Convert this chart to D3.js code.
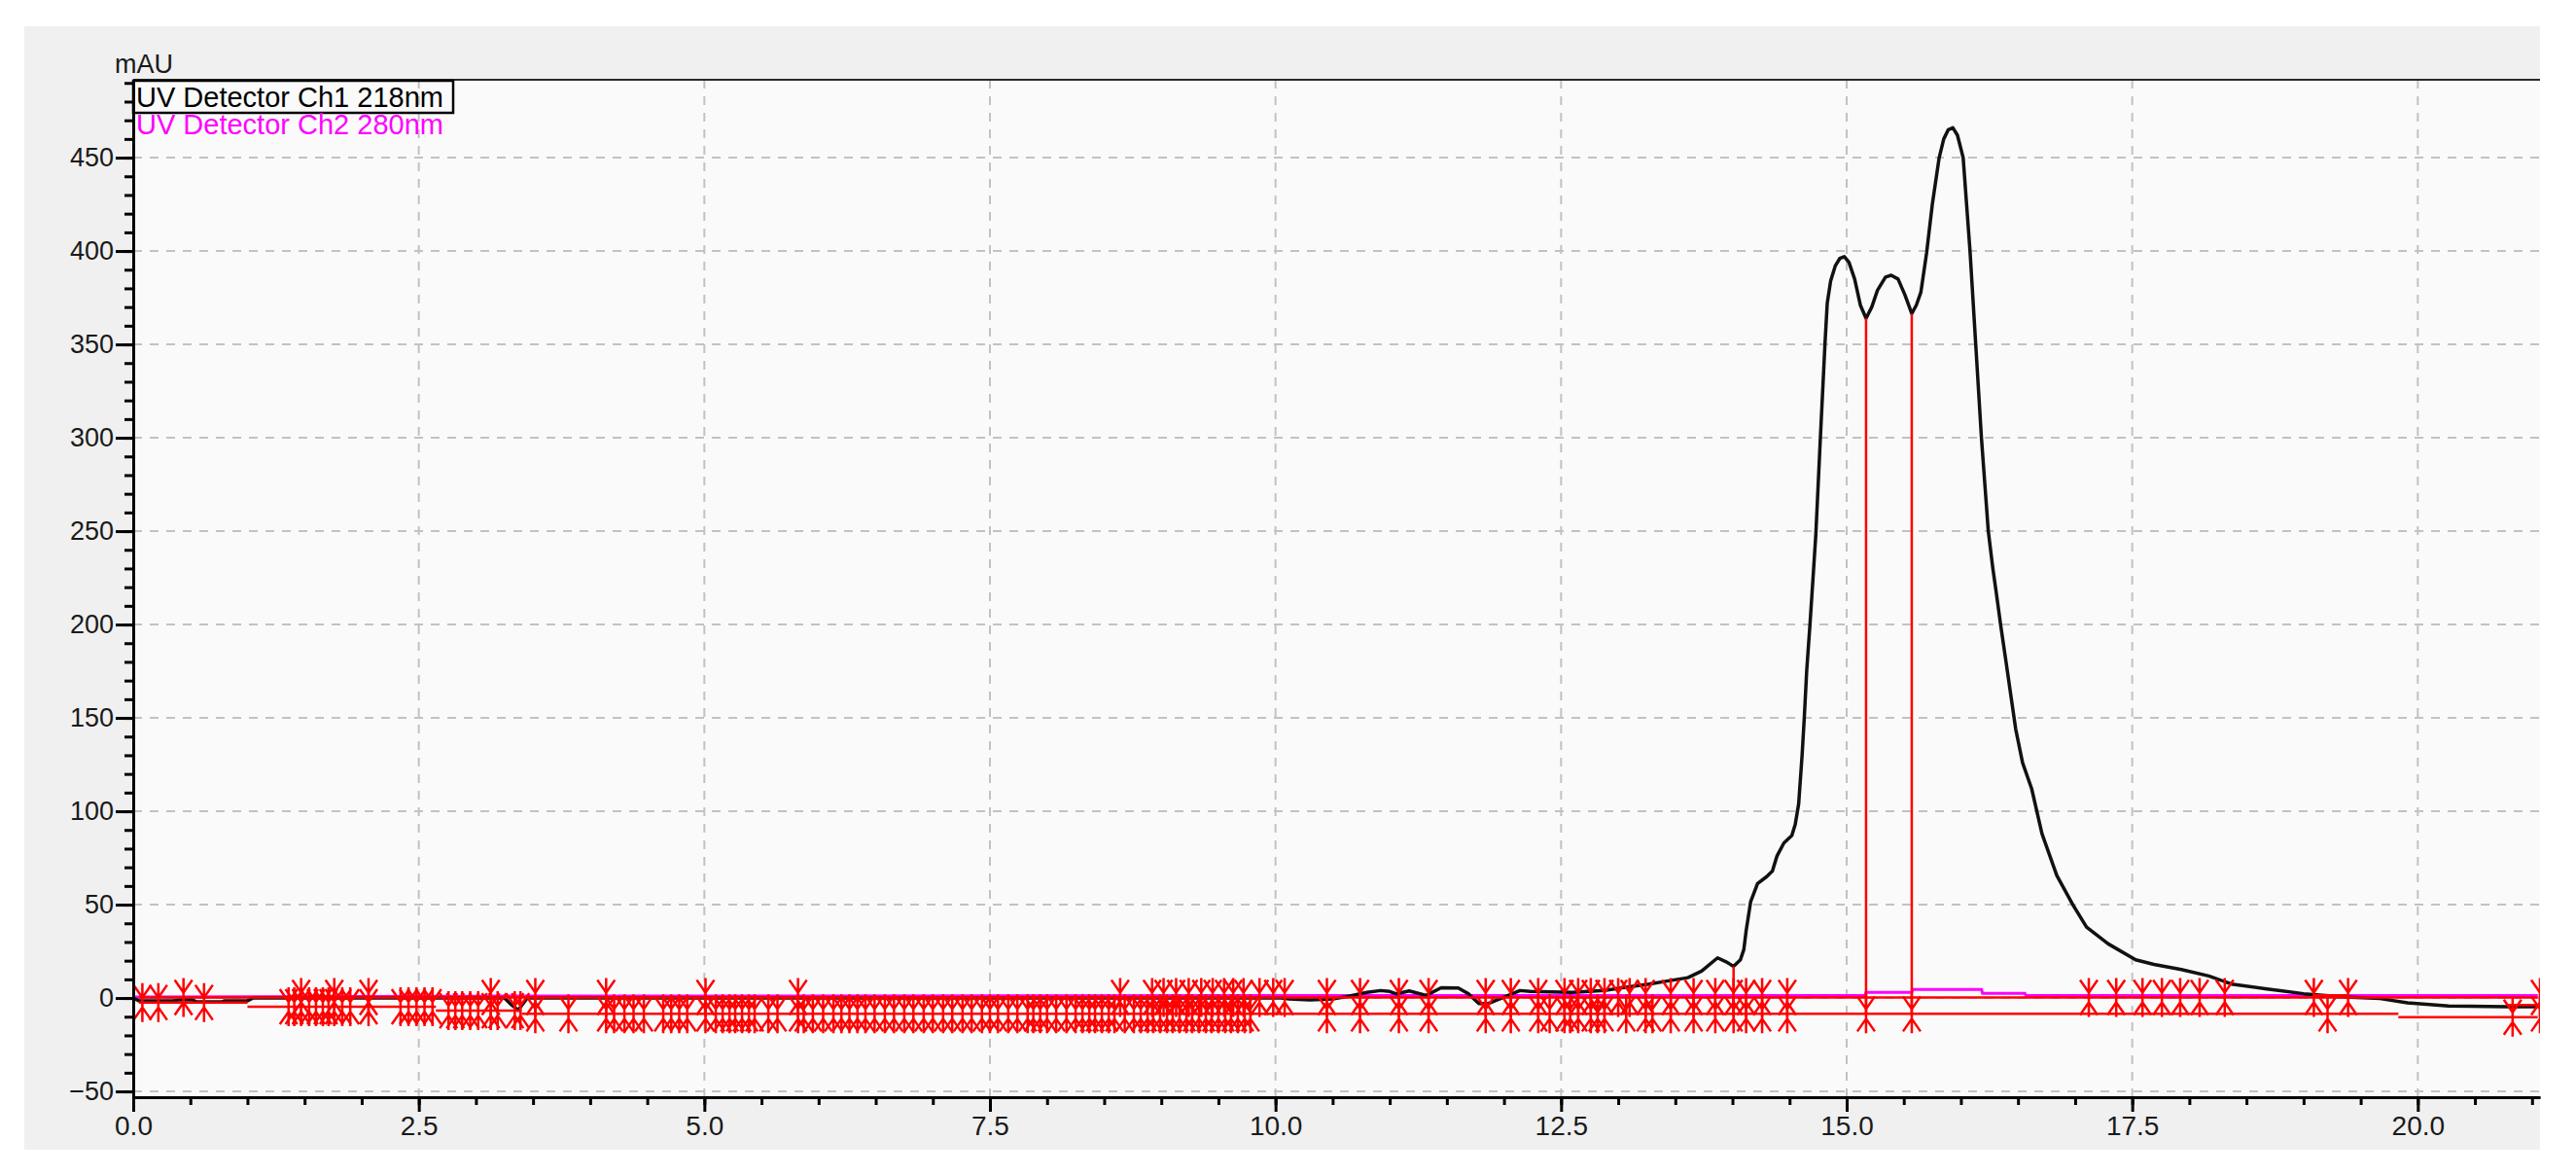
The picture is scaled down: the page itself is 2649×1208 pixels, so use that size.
<!DOCTYPE html>
<html><head><meta charset="utf-8">
<script src="https://cdn.jsdelivr.net/npm/d3@7"></script>
<style>html,body{margin:0;padding:0;background:#fff;} svg{display:block;} text{font-family:"Liberation Sans",Arial,sans-serif;}</style>
</head><body><svg id="chart" width="2649" height="1208"></svg>
<script>
// ---------- DATA ----------
const xTicks = [0, 2.5, 5, 7.5, 10, 12.5, 15, 17.5, 20];
const yTicks = [-50, 0, 50, 100, 150, 200, 250, 300, 350, 400, 450];
const legendLabels = ["UV Detector Ch1 218nm", "UV Detector Ch2 280nm"];
const yUnit = "mAU";

// Ch1 218nm trace [time (min), mAU]
const ch1 = [[0.00,0],[0.05,-1.5],[0.35,-1.5],[0.40,-1],[0.52,-1],[0.55,-2],[0.78,-2],[0.80,-1.5],[1.00,-1.5],[1.05,0],
[3.25,0],[3.30,-3],[3.37,-6.5],[3.45,0],[10.05,0],[10.12,-0.5],[10.30,-1],[10.50,-0.5],[10.60,0.5],[10.80,3],[10.92,4],
[11.00,3.5],[11.06,2.2],[11.17,3.8],[11.32,1.4],[11.45,5.5],[11.60,5.4],[11.69,2.2],[11.78,-3],[11.86,-3],[11.97,-0.3],
[12.14,4],[12.23,3.5],[12.60,3],[12.88,4],[13.02,5.4],[13.27,7.5],[13.44,9.2],[13.61,10.9],[13.73,14.4],[13.87,21.5],
[13.94,19.5],[14.01,17],[14.07,20.5],[14.10,26],[14.12,36],[14.16,51.7],[14.22,61.3],[14.30,65],[14.35,68],[14.39,76],
[14.45,83],[14.52,87],[14.55,93],[14.58,104],[14.61,130],[14.63,151],[14.65,175],[14.68,201],[14.71,229],[14.73,248],
[14.77,300],[14.81,350],[14.83,372],[14.86,384],[14.90,392],[14.94,396],[14.98,397],[15.02,394],[15.07,385],[15.12,371],[15.17,364],
[15.22,370],[15.27,379],[15.34,386],[15.39,387],[15.45,385],[15.51,376.5],[15.57,366.5],[15.61,371],[15.65,378],[15.70,399],
[15.75,425],[15.81,450],[15.85,460],[15.89,465],[15.93,466],[15.97,462],[16.02,450],[16.05,425],[16.08,400],
[16.13,350],[16.18,300],[16.24,250],[16.28,230],[16.31,217],[16.35,199],[16.40,178],[16.44,161],[16.48,144],[16.54,126],
[16.62,112],[16.71,88],[16.84,65.6],[16.98,50],[17.10,38],[17.29,29],[17.53,20.5],[17.69,18],[17.93,15.3],[18.17,11.8],
[18.37,7.5],[18.68,4.9],[19.00,2.3],[19.36,0.5],[19.67,-0.3],[19.91,-2.6],[20.27,-4.3],[20.78,-4.7],[21.05,-4.7]];

// Ch2 280nm trace [time (min), mAU]
const ch2 = [[0,0.6],[3.0,1.0],[10.0,1.3],[15.16,1.3],[15.17,3.0],[15.57,3.0],[15.58,4.6],[16.18,4.6],[16.19,2.5],
[16.56,2.5],[16.57,1.3],[21.05,1.3]];

// integration baselines [[t0,v0],[t1,v1]]
const upperBaselines = [[[0.05,0.3],[21.05,0.3]], [[19.09,1.5],[19.39,1.5]]];
const lowerBaselines = [[[0.05,-2.4],[1.0,-2.4]], [[1.0,-4.7],[2.65,-4.7]], [[2.65,-6.8],[3.4,-6.8]],
  [[3.4,-8.5],[19.83,-8.5]], [[19.83,-10.3],[21.05,-10.3]], [[20.78,-3.7],[21.05,-3.7]]];

// peak drop lines [time, top value, bottom value]
const dropLines = [[14.01,17,-8.5],[15.17,364,-8.5],[15.57,366.5,-8.5]];

// peak start/end markers
const upperMarks = [0.44,1.47,1.76,2.06,3.13,3.52,4.14,5.01,5.82,8.64,8.92,9.02,9.13,9.24,9.35,9.45,9.55,9.63,9.72,
9.86,9.98,10.08,10.45,10.74,11.08,11.34,11.84,12.06,12.30,12.53,12.65,12.76,12.88,13.00,13.10,13.24,13.46,13.66,13.85,
14.01,14.12,14.26,14.48,17.12,17.36,17.59,17.76,17.92,18.09,18.31,19.09,19.39,21.07];
const lowerMarks = [0.08,0.22,0.62,1.36,1.41,1.47,1.54,1.60,1.66,1.71,1.76,1.83,1.90,2.06,2.34,2.41,2.48,2.55,2.62,
2.76,2.82,2.88,2.95,3.02,3.13,3.19,3.34,3.39,3.52,3.81,4.14,4.21,4.30,4.38,4.47,4.64,4.71,4.78,4.85,5.01,5.10,5.16,
5.22,5.27,5.33,5.39,5.44,5.56,5.64,5.82,5.87,5.95,6.04,6.13,6.20,6.27,6.34,6.41,6.49,6.58,6.66,6.75,6.83,6.92,7.00,
7.09,7.17,7.26,7.34,7.43,7.50,7.57,7.66,7.74,7.83,7.88,7.94,8.00,8.08,8.17,8.25,8.31,8.37,8.42,8.48,8.54,8.59,8.68,
8.76,8.82,8.88,8.93,8.99,9.05,9.10,9.16,9.22,9.27,9.33,9.39,9.44,9.50,9.56,9.61,9.67,9.73,9.78,10.45,10.74,11.08,
11.34,11.84,12.06,12.30,12.40,12.53,12.58,12.65,12.76,12.82,12.88,13.07,13.24,13.30,13.46,13.66,13.85,14.01,14.12,
14.26,14.48,15.17,15.57,19.21,20.83,21.07];

// ---------- CHART ----------
const svg = d3.select("#chart");
const L = 137, R = 2612, T = 82, B = 1128;
const x = d3.scaleLinear().domain([0, 21.07]).range([L, R]);
const y = d3.scaleLinear().domain([-53.1, 491.7]).range([B, T]);

svg.append("rect").attr("x", 25).attr("y", 27).attr("width", R - 25).attr("height", 1155).attr("fill", "#f0f0f0");
svg.append("rect").attr("x", L).attr("y", T).attr("width", R - L).attr("height", B - T).attr("fill", "#fafafa");

// grid
const grid = svg.append("g").attr("stroke", "#c2c2c2").attr("stroke-width", 2).attr("stroke-dasharray", "9,8");
grid.selectAll(".gy").data(yTicks).join("line")
  .attr("x1", L).attr("x2", R).attr("y1", d => y(d)).attr("y2", d => y(d));
grid.selectAll(".gx").data(xTicks.filter(d => d > 0)).join("line")
  .attr("y1", T).attr("y2", B).attr("x1", d => x(d)).attr("x2", d => x(d));

// clip
svg.append("clipPath").attr("id", "clip").append("rect").attr("x", L).attr("y", T).attr("width", R - L).attr("height", B - T);
const plot = svg.append("g").attr("clip-path", "url(#clip)");
const line = d3.line().x(d => x(d[0])).y(d => y(d[1]));

plot.append("path").attr("d", line(ch2)).attr("fill", "none").attr("stroke", "#ff00ff").attr("stroke-width", 3);
plot.append("path").attr("d", line(ch1)).attr("fill", "none").attr("stroke", "#111").attr("stroke-width", 3.5).attr("stroke-linejoin", "round");

const red = plot.append("g").attr("stroke", "#ff0000").attr("stroke-width", 2.5).attr("fill", "none");
upperBaselines.concat(lowerBaselines).forEach(s => red.append("path").attr("d", line(s)));
dropLines.forEach(d => red.append("line").attr("x1", x(d[0])).attr("x2", x(d[0])).attr("y1", y(d[1])).attr("y2", y(d[2])));

function lowerAt(t) {
  const segs = lowerBaselines.slice(0, 5);
  for (const s of segs) if (t >= s[0][0] && t <= s[1][0]) return s[0][1];
  return -8.5;
}
function mark(cx, cy) {
  return `M${cx},${cy-20}V${cy+20}M${cx-9},${cy-18}L${cx},${cy-5}L${cx+9},${cy-18}M${cx-9},${cy+18}L${cx},${cy+5}L${cx+9},${cy+18}`;
}
red.selectAll(".mu").data(upperMarks).join("path").attr("d", t => mark(x(t), y(0.3)));
red.selectAll(".ml").data(lowerMarks).join("path").attr("d", t => mark(x(t), y(lowerAt(t))));

// top border
svg.append("line").attr("x1", L).attr("x2", R).attr("y1", T).attr("y2", T).attr("stroke", "#2a2a2a").attr("stroke-width", 2);

// axes
const yMinor = d3.range(-50, 491, 10);
const xMinor = d3.range(0, 21.01, 0.5);
const gy = svg.append("g").attr("transform", `translate(${L},0)`);
gy.call(d3.axisLeft(y).tickValues(yMinor).tickSize(9).tickSizeOuter(0).tickFormat(""));
gy.call(g => g.selectAll("line").attr("stroke-width", 3));
const gy2 = svg.append("g").attr("transform", `translate(${L},0)`)
  .call(d3.axisLeft(y).tickValues(yTicks).tickSize(18).tickSizeOuter(0).tickPadding(2).tickFormat(d3.format("d")));
gy2.select(".domain").attr("stroke-width", 3);
gy2.selectAll("line").attr("stroke-width", 3);
gy2.selectAll("text").attr("font-size", 27).attr("fill", "#1a1a1a").attr("font-family", "Liberation Sans, Arial, sans-serif");

const gx = svg.append("g").attr("transform", `translate(0,${B})`);
gx.call(d3.axisBottom(x).tickValues(xMinor).tickSize(8).tickSizeOuter(0).tickFormat(""));
gx.selectAll("line").attr("stroke-width", 3);
const gx2 = svg.append("g").attr("transform", `translate(0,${B})`)
  .call(d3.axisBottom(x).tickValues(xTicks).tickSize(15).tickSizeOuter(0).tickPadding(4).tickFormat(d3.format(".1f")));
gx2.select(".domain").attr("stroke-width", 3);
gx2.selectAll("line").attr("stroke-width", 3);
gx2.selectAll("text").attr("font-size", 28).attr("fill", "#1a1a1a").attr("font-family", "Liberation Sans, Arial, sans-serif");

svg.append("text").attr("x", 118).attr("y", 75).attr("font-size", 27).attr("fill", "#1a1a1a").text(yUnit);

// legend
svg.append("rect").attr("x", 137).attr("y", 83).attr("width", 329).attr("height", 33)
  .attr("fill", "none").attr("stroke", "#000").attr("stroke-width", 2.5);
svg.append("text").attr("x", 140).attr("y", 110).attr("font-size", 29).attr("fill", "#000").text(legendLabels[0]);
svg.append("text").attr("x", 140).attr("y", 138).attr("font-size", 29).attr("fill", "#ff00ff").text(legendLabels[1]);
</script></body></html>
